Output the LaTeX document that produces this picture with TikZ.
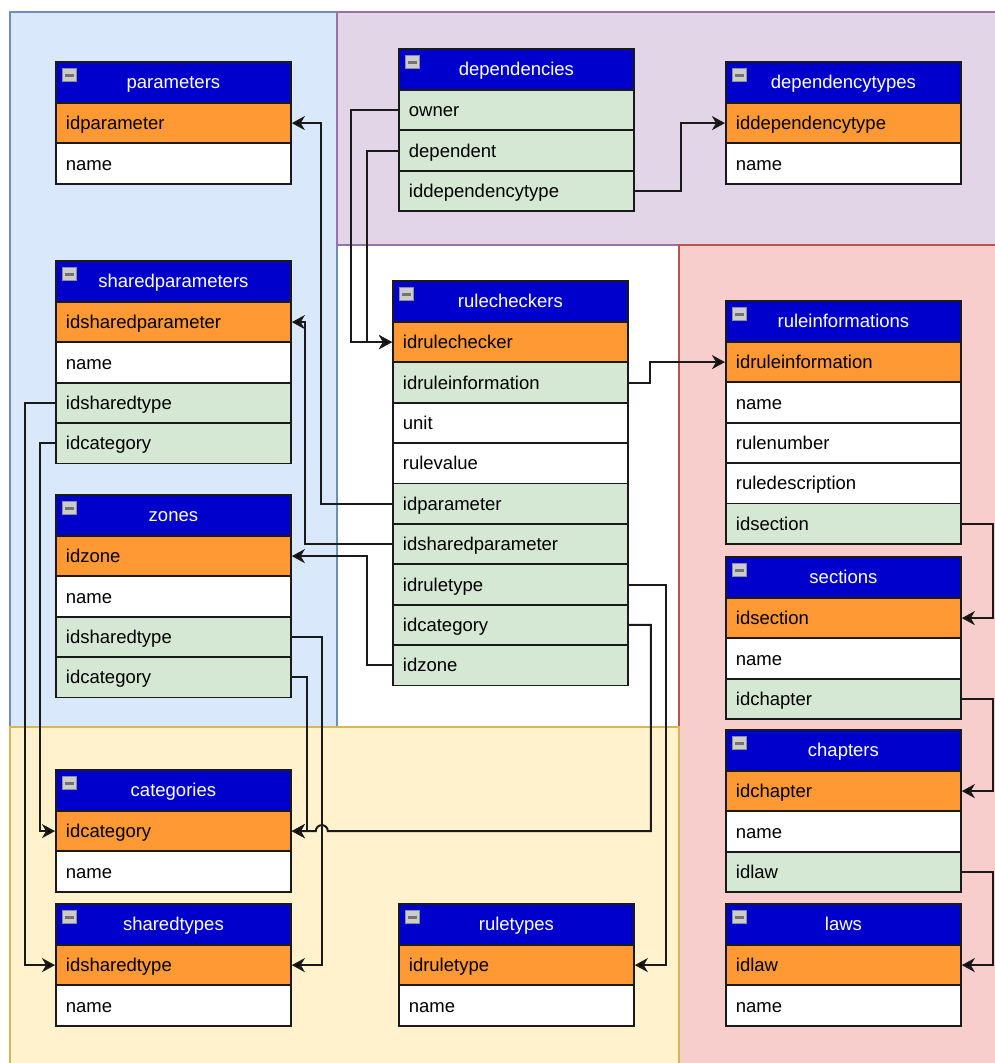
\documentclass[tikz,border=0pt]{standalone}
\usepackage{fontspec}
\setmainfont{Liberation Sans}
\usetikzlibrary{arrows.meta,calc}
\definecolor{hdrblue}{HTML}{0000CC}
\definecolor{pkorange}{HTML}{FF9933}
\definecolor{fkgreen}{HTML}{D5E8D4}
\definecolor{regblueF}{HTML}{DAE8FC}
\definecolor{regblueD}{HTML}{6C8EBF}
\definecolor{regpurpF}{HTML}{E1D5E7}
\definecolor{regpurpD}{HTML}{9673A6}
\definecolor{regredF}{HTML}{F8CECC}
\definecolor{regredD}{HTML}{B85450}
\definecolor{regyelF}{HTML}{FFF2CC}
\definecolor{regyelD}{HTML}{D6B656}
\definecolor{edgecol}{HTML}{1A1A1A}
\tikzset{
  cell/.style={draw=edgecol, line width=1.8pt, anchor=north west,
    minimum width=235pt, minimum height=40.4pt, text width=215pt,
    inner xsep=10pt, inner ysep=0pt, align=left,
    text height=17pt, text depth=4pt,
    font=\fontsize{18.5}{20}\selectfont},
  hdr/.style={cell, fill=hdrblue, text=white, minimum height=41pt, align=center},
  pk/.style={cell, fill=pkorange},
  fk/.style={cell, fill=fkgreen},
  plain/.style={cell, fill=white},
  icon/.style={draw=black!45, fill=black!20, line width=0.8pt, minimum size=13.5pt,
    inner sep=0pt, anchor=center,
    path picture={\draw[line width=3pt, black!55]
      ([xshift=2.5pt]path picture bounding box.west) --
      ([xshift=-2.5pt]path picture bounding box.east);}},
  conn/.style={draw=edgecol, line width=2pt,
    -{Stealth[length=13pt,width=14pt,inset=4pt,fill=black]}},
  region/.style={line width=1.3pt}
}
\newcommand\dbtable[5]{%
  \node[hdr] (#1) at (#2,#3) {#4};
  \node[icon] (#1-icon) at ({#2+14.5},{#3+14}) {};
  \foreach \k/\t [count=\i] in {#5}{%
    \node[\k] (#1-\i) at ({#2},{#3+41+(\i-1)*40.4}) {\t};
  }%
}
\begin{document}
\begin{tikzpicture}[x=1pt,y=-1pt]
\clip (0,0) rectangle (995,1063);
\fill[white] (0,0) rectangle (995,1063);
% regions
\draw[region, fill=regblueF, draw=regblueD] (10,12) rectangle (337,727);
\draw[region, fill=regpurpF, draw=regpurpD] (337,12) rectangle (1000,245);
\draw[region, fill=regredF, draw=regredD] (679,245) rectangle (1000,1070);
\draw[region, fill=regyelF, draw=regyelD] (10,727) rectangle (679,1070);
% tables
\dbtable{par}{55}{61}{parameters}{pk/idparameter, plain/name}
\dbtable{dep}{398}{48}{dependencies}{fk/owner, fk/dependent, fk/iddependencytype}
\dbtable{dtp}{725}{61}{dependencytypes}{pk/iddependencytype, plain/name}
\dbtable{shp}{55}{260}{sharedparameters}{pk/idsharedparameter, plain/name, fk/idsharedtype, fk/idcategory}
\dbtable{zon}{55}{494}{zones}{pk/idzone, plain/name, fk/idsharedtype, fk/idcategory}
\dbtable{rc}{392}{280}{rulecheckers}{pk/idrulechecker, fk/idruleinformation, plain/unit, plain/rulevalue, fk/idparameter, fk/idsharedparameter, fk/idruletype, fk/idcategory, fk/idzone}
\dbtable{ri}{725}{300}{ruleinformations}{pk/idruleinformation, plain/name, plain/rulenumber, plain/ruledescription, fk/idsection}
\dbtable{sec}{725}{556}{sections}{pk/idsection, plain/name, fk/idchapter}
\dbtable{chp}{725}{729}{chapters}{pk/idchapter, plain/name, fk/idlaw}
\dbtable{law}{725}{903}{laws}{pk/idlaw, plain/name}
\dbtable{cat}{55}{769}{categories}{pk/idcategory, plain/name}
\dbtable{sht}{55}{903}{sharedtypes}{pk/idsharedtype, plain/name}
\dbtable{rty}{398}{903}{ruletypes}{pk/idruletype, plain/name}
% connectors
\draw[conn] (rc-5.west) -- ++(-71,0) |- (par-1.east);
\draw[conn] (rc-6.west) -- ++(-87,0) |- (shp-1.east);
\draw[conn] (rc-9.west) -- ++(-25,0) |- (zon-1.east);
\draw[conn] (dep-1.west) -- ++(-47,0) |- (rc-1.west);
\draw[conn] (dep-2.west) -- ++(-31,0) |- (rc-1.west);
\draw[conn] (dep-3.east) -- ++(46,0) |- (dtp-1.west);
\draw[conn] (rc-2.east) -- ++(21,0) |- (ri-1.west);
\draw[conn] (rc-7.east) -- ++(37,0) |- (rty-1.east);
\draw[conn] (rc-8.east) -- ++(22,0) |- ($(cat-1.east)+(36,0)$)
  arc[start angle=0, end angle=180, radius=6pt] -- (cat-1.east);
\draw[conn] (zon-3.east) -- ++(30,0) |- (sht-1.east);
\draw[conn] (zon-4.east) -- ++(15,0) |- (cat-1.east);
\draw[conn] (shp-3.west) -- ++(-30,0) |- (sht-1.west);
\draw[conn] (shp-4.west) -- ++(-15,0) |- (cat-1.west);
\draw[conn] (ri-5.east) -- ++(31,0) |- (sec-1.east);
\draw[conn] (sec-3.east) -- ++(31,0) |- (chp-1.east);
\draw[conn] (chp-3.east) -- ++(31,0) |- (law-1.east);
\end{tikzpicture}
\end{document}
